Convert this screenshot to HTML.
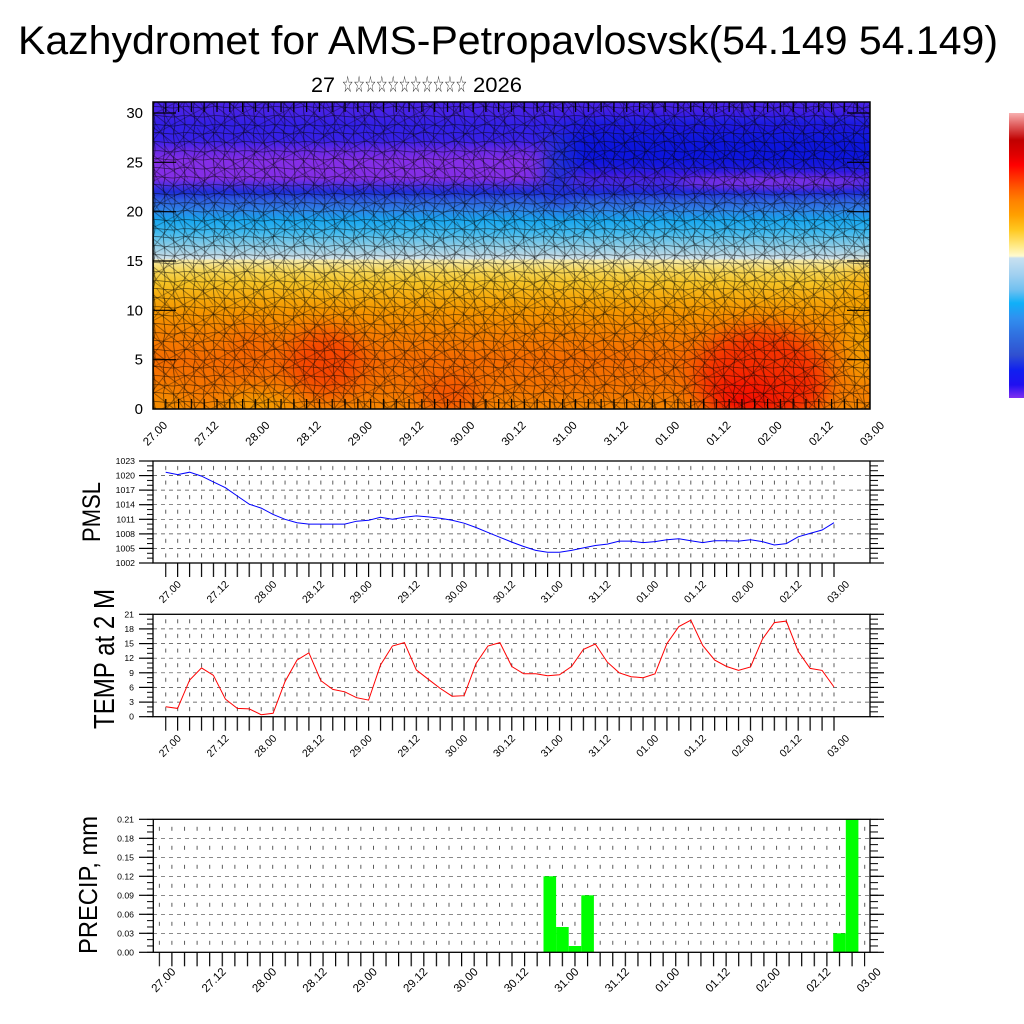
<!DOCTYPE html>
<html><head><meta charset="utf-8">
<style>html,body{margin:0;padding:0;background:#fff}svg{display:block}</style>
</head>
<body>
<svg width="1024" height="1024" viewBox="0 0 1024 1024" xmlns="http://www.w3.org/2000/svg" font-family="'Liberation Sans', Arial, sans-serif">
<defs>
  <linearGradient id="base" x1="0" y1="102" x2="0" y2="409" gradientUnits="userSpaceOnUse">
    <stop offset="0" stop-color="#4a24f0"/>
    <stop offset="0.033" stop-color="#4a24f0"/>
    <stop offset="0.075" stop-color="#3422f0"/>
    <stop offset="0.124" stop-color="#3a22f0"/>
    <stop offset="0.156" stop-color="#6a2af0"/>
    <stop offset="0.189" stop-color="#8a30f0"/>
    <stop offset="0.248" stop-color="#8a30f0"/>
    <stop offset="0.274" stop-color="#4a30ea"/>
    <stop offset="0.293" stop-color="#2030e0"/>
    <stop offset="0.319" stop-color="#3060e8"/>
    <stop offset="0.352" stop-color="#3088f0"/>
    <stop offset="0.384" stop-color="#18acf8"/>
    <stop offset="0.423" stop-color="#40c0f8"/>
    <stop offset="0.463" stop-color="#88d2f0"/>
    <stop offset="0.495" stop-color="#bcdff0"/>
    <stop offset="0.511" stop-color="#dcecf2"/>
    <stop offset="0.515" stop-color="#fff4b0"/>
    <stop offset="0.547" stop-color="#ffe060"/>
    <stop offset="0.586" stop-color="#ffcc28"/>
    <stop offset="0.629" stop-color="#ffb410"/>
    <stop offset="0.684" stop-color="#ff9c00"/>
    <stop offset="0.759" stop-color="#ff8400"/>
    <stop offset="0.840" stop-color="#ff7000"/>
    <stop offset="0.938" stop-color="#ff7a00"/>
    <stop offset="1" stop-color="#ff8c00"/>
  </linearGradient>
  <linearGradient id="cbar" x1="0" y1="113" x2="0" y2="398" gradientUnits="userSpaceOnUse">
    <stop offset="0" stop-color="#f8b0b0"/>
    <stop offset="0.042" stop-color="#e06060"/>
    <stop offset="0.095" stop-color="#c00000"/>
    <stop offset="0.147" stop-color="#e00000"/>
    <stop offset="0.182" stop-color="#ff0000"/>
    <stop offset="0.225" stop-color="#ff3000"/>
    <stop offset="0.27" stop-color="#ff6000"/>
    <stop offset="0.305" stop-color="#ff8000"/>
    <stop offset="0.358" stop-color="#ffa000"/>
    <stop offset="0.41" stop-color="#ffc820"/>
    <stop offset="0.463" stop-color="#ffe880"/>
    <stop offset="0.502" stop-color="#fffad0"/>
    <stop offset="0.509" stop-color="#c8e0f0"/>
    <stop offset="0.568" stop-color="#a0d0f0"/>
    <stop offset="0.621" stop-color="#70c0f0"/>
    <stop offset="0.667" stop-color="#10b0f8"/>
    <stop offset="0.719" stop-color="#3090f0"/>
    <stop offset="0.779" stop-color="#3070e0"/>
    <stop offset="0.849" stop-color="#3050d0"/>
    <stop offset="0.902" stop-color="#1020f0"/>
    <stop offset="0.954" stop-color="#2010f0"/>
    <stop offset="1" stop-color="#8030f0"/>
  </linearGradient>
  <clipPath id="cp"><rect x="153" y="102" width="717" height="307"/></clipPath>
  <filter id="b10" x="-50%" y="-50%" width="200%" height="200%"><feGaussianBlur stdDeviation="10"/></filter>
  <filter id="b4" x="-50%" y="-50%" width="200%" height="200%"><feGaussianBlur stdDeviation="4"/></filter>
  <filter id="b12" x="-50%" y="-50%" width="200%" height="200%"><feGaussianBlur stdDeviation="12"/></filter>

  <pattern id="m1" width="30" height="26" patternUnits="userSpaceOnUse">
    <path d="M0 3 C10 1 20 6 30 3 M0 12 C10 10 20 15 30 12 M0 21 C10 19 20 24 30 21 M4 0 C2 9 7 17 4 26 M14 0 C12 9 17 17 14 26 M24 0 C22 9 27 17 24 26" fill="none" stroke="#000" stroke-width="0.8" stroke-opacity="0.6"/>
  </pattern>
  <pattern id="m2" width="22" height="22" patternUnits="userSpaceOnUse" patternTransform="rotate(38)">
    <path d="M0 6 H22 M0 17 H22 M9 0 V22" fill="none" stroke="#000" stroke-width="0.7" stroke-opacity="0.5"/>
  </pattern>
  <pattern id="m3" width="37" height="41" patternUnits="userSpaceOnUse" patternTransform="rotate(-28)">
    <path d="M0 9 H37 M0 27 H37 M18 0 V41 M3 0 L8 41" fill="none" stroke="#000" stroke-width="0.7" stroke-opacity="0.4"/>
  </pattern>

  <pattern id="tt" x="152.4" y="0" width="12.8036" height="20" patternUnits="userSpaceOnUse"><rect x="0" y="0" width="1.2" height="20" fill="#000"/></pattern>
  <pattern id="tk1" x="165.1" y="0" width="11.934" height="20" patternUnits="userSpaceOnUse"><rect x="0" y="0" width="1.2" height="20" fill="#000"/></pattern>
  <pattern id="tk2" x="158.7" y="0" width="12.596" height="20" patternUnits="userSpaceOnUse"><rect x="0" y="0" width="1.2" height="20" fill="#000"/></pattern>

  <pattern id="vd1" x="165.3" y="461" width="11.934" height="14.571" patternUnits="userSpaceOnUse"><rect x="0" y="5" width="0.8" height="4" fill="#333"/></pattern>
  <pattern id="vd2" x="165.3" y="614.3" width="11.934" height="14.629" patternUnits="userSpaceOnUse"><rect x="0" y="5" width="0.8" height="4" fill="#333"/></pattern>
  <pattern id="vd3" x="158.9" y="819.3" width="12.596" height="19" patternUnits="userSpaceOnUse"><rect x="0" y="7.5" width="0.8" height="4" fill="#333"/></pattern>

  <pattern id="ym1" x="0" y="460.5" width="10" height="4.857" patternUnits="userSpaceOnUse"><rect x="0" y="0" width="10" height="1" fill="#000"/></pattern>
  <pattern id="ym2" x="0" y="613.8" width="10" height="4.876" patternUnits="userSpaceOnUse"><rect x="0" y="0" width="10" height="1" fill="#000"/></pattern>
  <pattern id="ym3" x="0" y="818.8" width="10" height="6.333" patternUnits="userSpaceOnUse"><rect x="0" y="0" width="10" height="1" fill="#000"/></pattern>
</defs>

<rect x="0" y="0" width="1024" height="1024" fill="#fff"/>

<!-- Title -->
<text x="18" y="54" font-size="40" textLength="980" lengthAdjust="spacingAndGlyphs" fill="#000">Kazhydromet for AMS-Petropavlosvsk(54.149 54.149)</text>
<text x="311" y="92" font-size="21" textLength="24" lengthAdjust="spacingAndGlyphs">27</text>
<text x="342" y="92" font-size="23" font-family="'DejaVu Sans', sans-serif" textLength="125" lengthAdjust="spacingAndGlyphs" fill="#222">☆☆☆☆☆☆☆☆☆☆☆</text>
<text x="473" y="92" font-size="21" textLength="49" lengthAdjust="spacingAndGlyphs">2026</text>

<!-- ===== Top panel ===== -->
<g clip-path="url(#cp)">
  <rect x="153" y="102" width="717" height="307" fill="url(#base)"/>
  <g filter="url(#b10)">
    <rect x="560" y="124" width="330" height="54" rx="24" fill="#0c12e6"/>
    <ellipse cx="557" cy="168" rx="14" ry="36" fill="#1a30e0"/>
  </g>
  <ellipse cx="772" cy="182" rx="95" ry="6" fill="#8030f0" filter="url(#b4)"/>
  <g filter="url(#b12)">
    <ellipse cx="325" cy="362" rx="38" ry="32" fill="#ff4600"/>
    <ellipse cx="250" cy="355" rx="25" ry="25" fill="#ff6a00"/>
    <ellipse cx="450" cy="395" rx="30" ry="18" fill="#ff5200"/>
    <ellipse cx="760" cy="378" rx="65" ry="50" fill="#ff3000"/>
    <ellipse cx="745" cy="398" rx="35" ry="22" fill="#ff0a00"/>
    <ellipse cx="800" cy="395" rx="25" ry="15" fill="#ff1a00"/>
    <ellipse cx="260" cy="405" rx="35" ry="10" fill="#ffb000"/>
    <ellipse cx="862" cy="330" rx="18" ry="60" fill="#ffa800"/>
    <ellipse cx="165" cy="400" rx="15" ry="10" fill="#ffa000"/>
  </g>
  <rect x="153" y="102" width="717" height="307" fill="#000" fill-opacity="0.04"/>
  <rect x="153" y="102" width="717" height="307" fill="url(#m1)"/>
  <rect x="153" y="102" width="717" height="307" fill="url(#m2)"/>
  <rect x="153" y="102" width="717" height="307" fill="url(#m3)"/>
  <!-- inward ticks -->
  <rect x="152.4" y="399" width="718" height="10" fill="url(#tt)"/>
  <rect x="152.4" y="102" width="718" height="10" fill="url(#tt)"/>
  <g stroke="#000" stroke-width="1.2">
    <line x1="153" y1="359.7" x2="176" y2="359.7"/><line x1="153" y1="310.3" x2="176" y2="310.3"/>
    <line x1="153" y1="261" x2="176" y2="261"/><line x1="153" y1="211.7" x2="176" y2="211.7"/>
    <line x1="153" y1="162.3" x2="176" y2="162.3"/><line x1="153" y1="113" x2="176" y2="113"/>
    <line x1="847" y1="359.7" x2="870" y2="359.7"/><line x1="847" y1="310.3" x2="870" y2="310.3"/>
    <line x1="847" y1="261" x2="870" y2="261"/><line x1="847" y1="211.7" x2="870" y2="211.7"/>
    <line x1="847" y1="162.3" x2="870" y2="162.3"/><line x1="847" y1="113" x2="870" y2="113"/>
  </g>
</g>
<rect x="153" y="102" width="717" height="307" fill="none" stroke="#000" stroke-width="1.5"/>
<g font-size="15" text-anchor="end" fill="#000">
  <text x="143" y="414">0</text><text x="143" y="364.7">5</text><text x="143" y="315.3">10</text>
  <text x="143" y="266">15</text><text x="143" y="216.7">20</text><text x="143" y="167.3">25</text><text x="143" y="118">30</text>
</g>
<g font-size="11.5" text-anchor="end" fill="#000">
  <text transform="translate(168,426) rotate(-45)">27.00</text>
  <text transform="translate(219.2,426) rotate(-45)">27.12</text>
  <text transform="translate(270.4,426) rotate(-45)">28.00</text>
  <text transform="translate(321.6,426) rotate(-45)">28.12</text>
  <text transform="translate(372.9,426) rotate(-45)">29.00</text>
  <text transform="translate(424.1,426) rotate(-45)">29.12</text>
  <text transform="translate(475.3,426) rotate(-45)">30.00</text>
  <text transform="translate(526.5,426) rotate(-45)">30.12</text>
  <text transform="translate(577.7,426) rotate(-45)">31.00</text>
  <text transform="translate(628.9,426) rotate(-45)">31.12</text>
  <text transform="translate(680.1,426) rotate(-45)">01.00</text>
  <text transform="translate(731.4,426) rotate(-45)">01.12</text>
  <text transform="translate(782.6,426) rotate(-45)">02.00</text>
  <text transform="translate(833.8,426) rotate(-45)">02.12</text>
  <text transform="translate(885,426) rotate(-45)">03.00</text>
</g>

<!-- Colorbar -->
<rect x="1009" y="113" width="15" height="285" fill="url(#cbar)"/>

<!-- ===== PMSL panel ===== -->
<g stroke="#444" stroke-width="0.7" stroke-dasharray="4 4">
  <line x1="153" y1="548.4" x2="870" y2="548.4"/><line x1="153" y1="533.9" x2="870" y2="533.9"/>
  <line x1="153" y1="519.3" x2="870" y2="519.3"/><line x1="153" y1="504.7" x2="870" y2="504.7"/>
  <line x1="153" y1="490.1" x2="870" y2="490.1"/><line x1="153" y1="475.6" x2="870" y2="475.6"/>
</g>
<rect x="165" y="461" width="670" height="102" fill="url(#vd1)"/>
<polyline fill="none" stroke="#0000ff" stroke-width="1" points="165.7,472.2 177.6,474.6 189.6,472.2 201.5,476.1 213.4,481.9 225.4,487.7 237.3,496.0 249.2,504.2 261.2,508.1 273.1,514.4 285.0,519.3 297.0,522.7 308.9,524.1 320.8,524.1 332.8,524.1 344.7,524.1 356.6,521.2 368.6,520.3 380.5,517.3 392.4,519.3 404.4,517.3 416.3,515.9 428.2,516.9 440.2,518.3 452.1,520.3 464.1,523.2 476.0,527.5 487.9,532.4 499.9,537.3 511.8,542.1 523.7,546.5 535.7,550.4 547.6,552.3 559.5,552.3 571.5,550.4 583.4,547.9 595.3,545.5 607.3,544.1 619.2,541.1 631.1,541.1 643.1,542.6 655.0,541.6 666.9,539.7 678.9,538.7 690.8,540.7 702.7,542.6 714.7,540.7 726.6,540.7 738.5,541.1 750.5,539.7 762.4,541.6 774.3,545.0 786.3,543.6 798.2,536.8 810.1,533.4 822.1,530.0 834.0,522.7"/>
<rect x="153" y="461" width="717" height="102" fill="none" stroke="#000" stroke-width="1.3"/>
<rect x="165.1" y="563" width="670.2" height="14" fill="url(#tk1)"/>
<rect x="147" y="460.5" width="6" height="103" fill="url(#ym1)"/>
<rect x="870" y="460.5" width="8" height="103" fill="url(#ym1)"/>
<g stroke="#000" stroke-width="1.2">
  <line x1="139" y1="563" x2="153" y2="563"/><line x1="139" y1="548.4" x2="153" y2="548.4"/><line x1="139" y1="533.9" x2="153" y2="533.9"/><line x1="139" y1="519.3" x2="153" y2="519.3"/><line x1="139" y1="504.7" x2="153" y2="504.7"/><line x1="139" y1="490.1" x2="153" y2="490.1"/><line x1="139" y1="475.6" x2="153" y2="475.6"/><line x1="139" y1="461" x2="153" y2="461"/>
  <line x1="870" y1="563" x2="884" y2="563"/><line x1="870" y1="548.4" x2="884" y2="548.4"/><line x1="870" y1="533.9" x2="884" y2="533.9"/><line x1="870" y1="519.3" x2="884" y2="519.3"/><line x1="870" y1="504.7" x2="884" y2="504.7"/><line x1="870" y1="490.1" x2="884" y2="490.1"/><line x1="870" y1="475.6" x2="884" y2="475.6"/><line x1="870" y1="461" x2="884" y2="461"/>
</g>
<g font-size="8.7" text-anchor="end">
  <text x="135" y="566">1002</text><text x="135" y="551.4">1005</text><text x="135" y="536.9">1008</text><text x="135" y="522.3">1011</text>
  <text x="135" y="507.7">1014</text><text x="135" y="493.1">1017</text><text x="135" y="478.6">1020</text><text x="135" y="464">1023</text>
</g>
<text transform="translate(100,512) rotate(-90)" font-size="25" text-anchor="middle" textLength="60" lengthAdjust="spacingAndGlyphs">PMSL</text>
<g font-size="10.5" text-anchor="end">
  <text transform="translate(181.7,585) rotate(-45)">27.00</text>
  <text transform="translate(229.4,585) rotate(-45)">27.12</text>
  <text transform="translate(277.2,585) rotate(-45)">28.00</text>
  <text transform="translate(324.9,585) rotate(-45)">28.12</text>
  <text transform="translate(372.6,585) rotate(-45)">29.00</text>
  <text transform="translate(420.4,585) rotate(-45)">29.12</text>
  <text transform="translate(468.1,585) rotate(-45)">30.00</text>
  <text transform="translate(515.9,585) rotate(-45)">30.12</text>
  <text transform="translate(563.6,585) rotate(-45)">31.00</text>
  <text transform="translate(611.3,585) rotate(-45)">31.12</text>
  <text transform="translate(659.1,585) rotate(-45)">01.00</text>
  <text transform="translate(706.8,585) rotate(-45)">01.12</text>
  <text transform="translate(754.5,585) rotate(-45)">02.00</text>
  <text transform="translate(802.3,585) rotate(-45)">02.12</text>
  <text transform="translate(850,585) rotate(-45)">03.00</text>
</g>

<!-- ===== TEMP panel ===== -->
<g stroke="#444" stroke-width="0.7" stroke-dasharray="4 4">
  <line x1="153" y1="702.1" x2="870" y2="702.1"/><line x1="153" y1="687.4" x2="870" y2="687.4"/>
  <line x1="153" y1="672.8" x2="870" y2="672.8"/><line x1="153" y1="658.2" x2="870" y2="658.2"/>
  <line x1="153" y1="643.6" x2="870" y2="643.6"/><line x1="153" y1="628.9" x2="870" y2="628.9"/>
</g>
<rect x="165" y="614.3" width="670" height="102.4" fill="url(#vd2)"/>
<polyline fill="none" stroke="#ff0000" stroke-width="1" points="165.7,706.7 177.6,708.4 189.6,680.1 201.5,667.9 213.4,675.3 225.4,699.1 237.3,708.4 249.2,708.9 261.2,714.7 273.1,713.3 285.0,681.6 297.0,660.1 308.9,652.8 320.8,680.6 332.8,689.4 344.7,691.8 356.6,697.7 368.6,700.1 380.5,665.0 392.4,646.0 404.4,642.6 416.3,669.9 428.2,679.2 440.2,688.4 452.1,696.2 464.1,695.7 476.0,663.6 487.9,646.0 499.9,642.6 511.8,666.5 523.7,673.8 535.7,673.8 547.6,675.7 559.5,674.8 571.5,666.5 583.4,649.4 595.3,644.0 607.3,662.1 619.2,672.8 631.1,676.7 643.1,677.7 655.0,673.8 666.9,643.6 678.9,626.5 690.8,620.2 702.7,645.5 714.7,660.1 726.6,666.5 738.5,670.4 750.5,667.0 762.4,639.2 774.3,622.6 786.3,621.1 798.2,651.4 810.1,668.4 822.1,670.4 834.0,687.0"/>
<rect x="153" y="614.3" width="717" height="102.4" fill="none" stroke="#000" stroke-width="1.3"/>
<rect x="165.1" y="716.7" width="670.2" height="14" fill="url(#tk1)"/>
<rect x="147" y="613.8" width="6" height="103.5" fill="url(#ym2)"/>
<rect x="870" y="613.8" width="8" height="103.5" fill="url(#ym2)"/>
<g stroke="#000" stroke-width="1.2">
  <line x1="139" y1="716.7" x2="153" y2="716.7"/><line x1="139" y1="702.1" x2="153" y2="702.1"/><line x1="139" y1="687.4" x2="153" y2="687.4"/><line x1="139" y1="672.8" x2="153" y2="672.8"/><line x1="139" y1="658.2" x2="153" y2="658.2"/><line x1="139" y1="643.6" x2="153" y2="643.6"/><line x1="139" y1="628.9" x2="153" y2="628.9"/><line x1="139" y1="614.3" x2="153" y2="614.3"/>
  <line x1="870" y1="716.7" x2="884" y2="716.7"/><line x1="870" y1="702.1" x2="884" y2="702.1"/><line x1="870" y1="687.4" x2="884" y2="687.4"/><line x1="870" y1="672.8" x2="884" y2="672.8"/><line x1="870" y1="658.2" x2="884" y2="658.2"/><line x1="870" y1="643.6" x2="884" y2="643.6"/><line x1="870" y1="628.9" x2="884" y2="628.9"/><line x1="870" y1="614.3" x2="884" y2="614.3"/>
</g>
<g font-size="8.7" text-anchor="end">
  <text x="134" y="719.7">0</text><text x="134" y="705.1">3</text><text x="134" y="690.4">6</text><text x="134" y="675.8">9</text>
  <text x="134" y="661.2">12</text><text x="134" y="646.6">15</text><text x="134" y="631.9">18</text><text x="134" y="617.3">21</text>
</g>
<text transform="translate(114,659) rotate(-90)" font-size="29" text-anchor="middle" textLength="140" lengthAdjust="spacingAndGlyphs">TEMP at 2 M</text>
<g font-size="10.5" text-anchor="end">
  <text transform="translate(181.7,739) rotate(-45)">27.00</text>
  <text transform="translate(229.4,739) rotate(-45)">27.12</text>
  <text transform="translate(277.2,739) rotate(-45)">28.00</text>
  <text transform="translate(324.9,739) rotate(-45)">28.12</text>
  <text transform="translate(372.6,739) rotate(-45)">29.00</text>
  <text transform="translate(420.4,739) rotate(-45)">29.12</text>
  <text transform="translate(468.1,739) rotate(-45)">30.00</text>
  <text transform="translate(515.9,739) rotate(-45)">30.12</text>
  <text transform="translate(563.6,739) rotate(-45)">31.00</text>
  <text transform="translate(611.3,739) rotate(-45)">31.12</text>
  <text transform="translate(659.1,739) rotate(-45)">01.00</text>
  <text transform="translate(706.8,739) rotate(-45)">01.12</text>
  <text transform="translate(754.5,739) rotate(-45)">02.00</text>
  <text transform="translate(802.3,739) rotate(-45)">02.12</text>
  <text transform="translate(850,739) rotate(-45)">03.00</text>
</g>

<!-- ===== PRECIP panel ===== -->
<g stroke="#444" stroke-width="0.7" stroke-dasharray="4 4">
  <line x1="153" y1="933.3" x2="870" y2="933.3"/><line x1="153" y1="914.3" x2="870" y2="914.3"/>
  <line x1="153" y1="895.3" x2="870" y2="895.3"/><line x1="153" y1="876.3" x2="870" y2="876.3"/>
  <line x1="153" y1="857.3" x2="870" y2="857.3"/><line x1="153" y1="838.3" x2="870" y2="838.3"/>
</g>
<rect x="158.5" y="819.3" width="707" height="133" fill="url(#vd3)"/>
<g fill="#00ff00">
  <rect x="543.5" y="876.3" width="12.6" height="76"/>
  <rect x="556.1" y="927" width="12.6" height="25.3"/>
  <rect x="568.7" y="946" width="12.6" height="6.3"/>
  <rect x="581.3" y="895.3" width="12.6" height="57"/>
  <rect x="833.2" y="933.3" width="12.6" height="19"/>
  <rect x="845.8" y="819.3" width="12.6" height="133"/>
</g>
<rect x="153.3" y="819.3" width="716.7" height="133" fill="none" stroke="#000" stroke-width="1.3"/>
<rect x="158.7" y="952.3" width="706.6" height="14" fill="url(#tk2)"/>
<rect x="147" y="818.8" width="6" height="134" fill="url(#ym3)"/>
<rect x="870" y="818.8" width="8" height="134" fill="url(#ym3)"/>
<g stroke="#000" stroke-width="1.2">
  <line x1="139" y1="952.3" x2="153" y2="952.3"/><line x1="139" y1="933.3" x2="153" y2="933.3"/><line x1="139" y1="914.3" x2="153" y2="914.3"/><line x1="139" y1="895.3" x2="153" y2="895.3"/><line x1="139" y1="876.3" x2="153" y2="876.3"/><line x1="139" y1="857.3" x2="153" y2="857.3"/><line x1="139" y1="838.3" x2="153" y2="838.3"/><line x1="139" y1="819.3" x2="153" y2="819.3"/>
  <line x1="870" y1="952.3" x2="884" y2="952.3"/><line x1="870" y1="933.3" x2="884" y2="933.3"/><line x1="870" y1="914.3" x2="884" y2="914.3"/><line x1="870" y1="895.3" x2="884" y2="895.3"/><line x1="870" y1="876.3" x2="884" y2="876.3"/><line x1="870" y1="857.3" x2="884" y2="857.3"/><line x1="870" y1="838.3" x2="884" y2="838.3"/><line x1="870" y1="819.3" x2="884" y2="819.3"/>
</g>
<g font-size="8.7" text-anchor="end">
  <text x="134" y="955.3">0.00</text><text x="134" y="936.3">0.03</text><text x="134" y="917.3">0.06</text><text x="134" y="898.3">0.09</text>
  <text x="134" y="879.3">0.12</text><text x="134" y="860.3">0.15</text><text x="134" y="841.3">0.18</text><text x="134" y="822.3">0.21</text>
</g>
<text transform="translate(97,885) rotate(-90)" font-size="26" text-anchor="middle" textLength="138" lengthAdjust="spacingAndGlyphs">PRECIP, mm</text>
<g font-size="11.5" text-anchor="end">
  <text transform="translate(176.3,972.5) rotate(-45)">27.00</text>
  <text transform="translate(226.7,972.5) rotate(-45)">27.12</text>
  <text transform="translate(277.1,972.5) rotate(-45)">28.00</text>
  <text transform="translate(327.5,972.5) rotate(-45)">28.12</text>
  <text transform="translate(377.8,972.5) rotate(-45)">29.00</text>
  <text transform="translate(428.2,972.5) rotate(-45)">29.12</text>
  <text transform="translate(478.6,972.5) rotate(-45)">30.00</text>
  <text transform="translate(529,972.5) rotate(-45)">30.12</text>
  <text transform="translate(579.4,972.5) rotate(-45)">31.00</text>
  <text transform="translate(629.8,972.5) rotate(-45)">31.12</text>
  <text transform="translate(680.2,972.5) rotate(-45)">01.00</text>
  <text transform="translate(730.5,972.5) rotate(-45)">01.12</text>
  <text transform="translate(780.9,972.5) rotate(-45)">02.00</text>
  <text transform="translate(831.3,972.5) rotate(-45)">02.12</text>
  <text transform="translate(881.7,972.5) rotate(-45)">03.00</text>
</g>
</svg>
</body></html>
